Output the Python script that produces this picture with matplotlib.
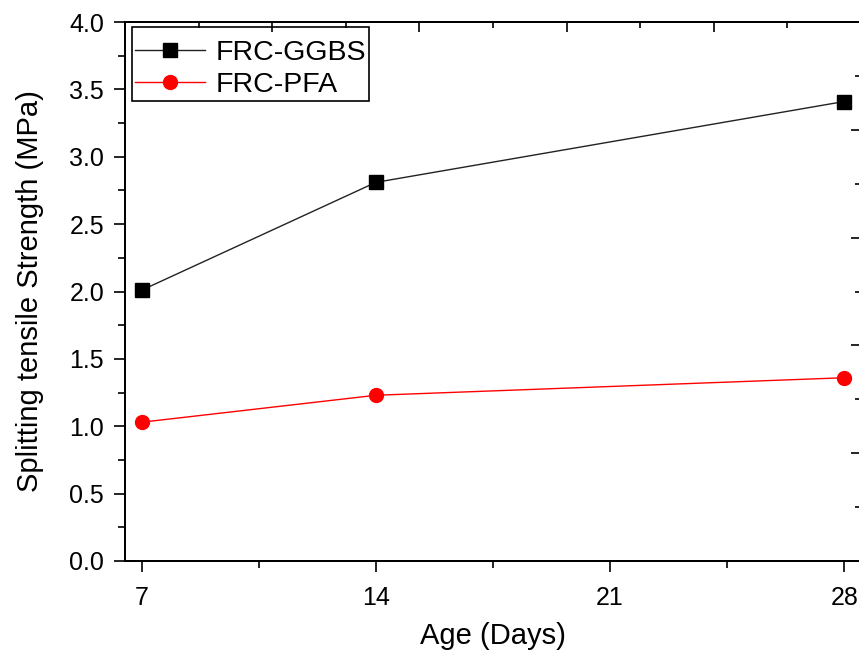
import matplotlib
matplotlib.use("Agg")
import matplotlib.pyplot as plt
from matplotlib.ticker import MultipleLocator

plt.rcParams['font.family'] = ['Liberation Sans', 'DejaVu Sans']

days = [7, 14, 28]
ggbs = [2.01, 2.81, 3.41]
pfa = [1.03, 1.23, 1.36]
xticks = [7, 14, 21, 28]
yticks = [0.0, 0.5, 1.0, 1.5, 2.0, 2.5, 3.0, 3.5, 4.0]

fig = plt.figure(figsize=(8.59, 6.55), dpi=100)
ax = fig.add_axes([125/859, 94/655, 736/859, 539/655])

ax.plot(days, ggbs, color='#222222', lw=1.0, marker='s', markersize=9.8,
        markerfacecolor='black', markeredgecolor='black', label='FRC-GGBS', zorder=3)
ax.plot(days, pfa, color='red', lw=1.0, marker='o', markersize=10,
        markerfacecolor='red', markeredgecolor='red', label='FRC-PFA', zorder=3)

ax.set_xlim(6.5, 28.5)
ax.set_ylim(0, 4.0)
ax.set_xticks(xticks)
ax.set_xticklabels([str(v) for v in xticks])
ax.set_yticks(yticks)
ax.set_yticklabels([f"{v:.1f}" for v in yticks])
ax.xaxis.set_minor_locator(MultipleLocator(3.5))
ax.yaxis.set_minor_locator(MultipleLocator(0.25))

ax.tick_params(axis='both', which='major', direction='out', length=8, width=1.2,
               labelsize=18, top=False, right=False)
ax.tick_params(axis='both', which='minor', direction='out', length=5, width=1.2,
               top=False, right=False)
ax.tick_params(axis='x', which='major', pad=10)
ax.tick_params(axis='y', which='major', pad=7)

for s in ax.spines.values():
    s.set_linewidth(1.4)

ax.set_xlabel('Age (Days)', fontsize=21, labelpad=9)
ax.set_ylabel('Splitting tensile Strength (MPa)', fontsize=21, labelpad=18)

# mirrored top/right tick axes (independent scales, no labels)
axt = ax.twiny()
axt.set_xlim(0, 5)
axt.xaxis.set_major_locator(MultipleLocator(1))
axt.xaxis.set_minor_locator(MultipleLocator(0.5))
axt.tick_params(axis='x', which='major', direction='in', length=7.5, width=1.2,
                labeltop=False, top=True, bottom=False)
axt.tick_params(axis='x', which='minor', direction='in', length=4.5, width=1.2,
                top=True, bottom=False)
for s in axt.spines.values():
    s.set_linewidth(1.4)

axr = ax.twinx()
axr.set_ylim(0, 5)
axr.yaxis.set_major_locator(MultipleLocator(1))
axr.yaxis.set_minor_locator(MultipleLocator(0.5))
axr.tick_params(axis='y', which='major', direction='in', length=7.5, width=1.2,
                labelright=False, right=True, left=False)
axr.tick_params(axis='y', which='minor', direction='in', length=4.5, width=1.2,
                right=True, left=False)
for s in axr.spines.values():
    s.set_linewidth(1.4)

leg = ax.legend(loc='upper left', bbox_to_anchor=(0.0095, 0.9907), borderaxespad=0,
                fontsize=20.5, frameon=True, fancybox=False, edgecolor='black',
                handlelength=2.45, handletextpad=0.35, labelspacing=0.2,
                borderpad=0.12, framealpha=1, title=' ', title_fontsize=3)
leg.get_frame().set_linewidth(1.2)
leg.set_zorder(10)

fig.savefig('out.png', dpi=100)
